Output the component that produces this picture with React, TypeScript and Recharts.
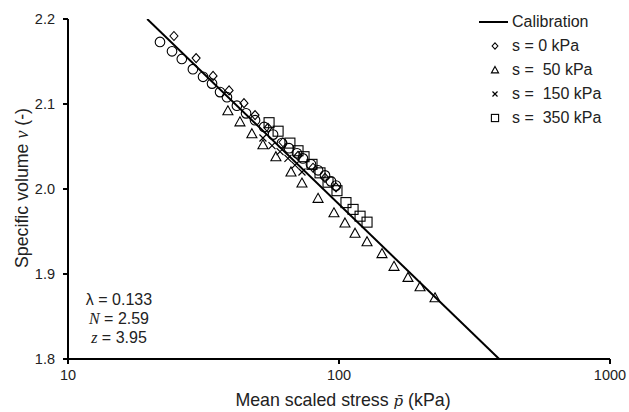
import React from "react";
import { ScatterChart, Scatter, XAxis, YAxis } from "recharts";

const xTicks = [10, 100, 1000];
const yTicks = [1.8, 1.9, 2.0, 2.1, 2.2];

// calibration line end points [p, v]
const calibration = [
  [19.6, 2.2],
  [390, 1.8],
];

// s = 0 kPa (diamonds)
const s0 = [
  [24.6, 2.18], [29.7, 2.154], [34.3, 2.133], [39.3, 2.116], [44.6, 2.101],
  [49.0, 2.087], [54.7, 2.072], [62.1, 2.055], [70.6, 2.039], [80.2, 2.025],
  [88.8, 2.013], [97.5, 2.002],
];

// s = 50 kPa (triangles)
const s50 = [
  [38.9, 2.092], [43.1, 2.079], [47.7, 2.065], [52.4, 2.052], [58.5, 2.038],
  [66.5, 2.02], [73.0, 2.007], [83.7, 1.989], [95.8, 1.972], [105.2, 1.96],
  [114.6, 1.948], [126.9, 1.938], [144.1, 1.924], [159.6, 1.909], [179.7, 1.896],
  [199.1, 1.885], [226.1, 1.872],
];

// s = 150 kPa (crosses)
const s150 = [
  [52.4, 2.06], [56.6, 2.051], [60.6, 2.044], [64.8, 2.036], [68.8, 2.028], [73.0, 2.02],
];

// s = 350 kPa (squares)
const s350 = [
  [55.2, 2.078], [59.6, 2.068], [65.9, 2.054], [70.6, 2.045], [74.3, 2.038],
  [79.5, 2.029], [85.1, 2.019], [91.1, 2.008], [98.3, 1.998], [106.1, 1.984],
  [112.7, 1.976], [119.6, 1.968], [126.9, 1.961],
];

// extra test data (circles, not in legend)
const extra = [
  [21.85, 2.173], [24.2, 2.162], [26.3, 2.153], [28.9, 2.141], [31.5, 2.132],
  [34.0, 2.124], [36.4, 2.114], [38.6, 2.108], [42.0, 2.098], [45.4, 2.089],
  [49.0, 2.081], [52.9, 2.073], [57.1, 2.064], [61.6, 2.054], [65.4, 2.048],
  [70.0, 2.042], [73.6, 2.036], [78.8, 2.029], [83.7, 2.022], [88.8, 2.016],
  [93.4, 2.009], [97.5, 2.004],
];

const toPts = (arr: number[][]) => arr.map(([p, v]) => ({ p, v }));

const Diamond = ({ cx, cy, k = 1 }: any) => (
  <path
    d={`M${cx},${cy - 4.5 * k}L${cx + 4 * k},${cy}L${cx},${cy + 4.5 * k}L${cx - 4 * k},${cy}Z`}
    fill="none"
    stroke="#000"
    strokeWidth={1.1}
  />
);
const Triangle = ({ cx, cy, k = 1 }: any) => (
  <path
    d={`M${cx},${cy - 5 * k}L${cx + 5 * k},${cy + 4 * k}L${cx - 5 * k},${cy + 4 * k}Z`}
    fill="none"
    stroke="#000"
    strokeWidth={1.1}
  />
);
const Cross = ({ cx, cy, k = 1 }: any) => (
  <path
    d={`M${cx - 3.5 * k},${cy - 3.5 * k}L${cx + 3.5 * k},${cy + 3.5 * k}M${cx + 3.5 * k},${cy - 3.5 * k}L${cx - 3.5 * k},${cy + 3.5 * k}`}
    stroke="#000"
    strokeWidth={1.2}
  />
);
const Square = ({ cx, cy, k = 1 }: any) => (
  <rect
    x={cx - 5 * k}
    y={cy - 5 * k}
    width={10 * k}
    height={10 * k}
    fill="none"
    stroke="#000"
    strokeWidth={1.1}
  />
);
const Circle = ({ cx, cy }: any) => (
  <circle cx={cx} cy={cy} r={4.8} fill="none" stroke="#000" strokeWidth={1.1} />
);
const NoDot = () => <g />;

const legendItems = [
  { name: "Calibration", mark: "line" },
  { name: "s = 0 kPa", mark: "diamond" },
  { name: "s =  50 kPa", mark: "triangle" },
  { name: "s =  150 kPa", mark: "cross" },
  { name: "s =  350 kPa", mark: "square" },
];

const LegendMark = ({ mark }: { mark: string }) => {
  const cx = 16;
  const cy = 12;
  const k = 0.72;
  return (
    <svg width={33} height={24} style={{ display: "block" }}>
      {mark === "line" && <line x1={0} x2={29} y1={cy} y2={cy} stroke="#000" strokeWidth={2} />}
      {mark === "diamond" && <Diamond cx={cx} cy={cy} k={k} />}
      {mark === "triangle" && <Triangle cx={cx} cy={cy} k={k} />}
      {mark === "cross" && <Cross cx={cx} cy={cy} k={k} />}
      {mark === "square" && <Square cx={cx} cy={cy} k={k} />}
    </svg>
  );
};

const XTitle = (props: any) => {
  const vb = props.viewBox || { x: 68, y: 359, width: 542 };
  return (
    <text x={vb.x + vb.width / 2 + 4} y={vb.y + 47} textAnchor="middle" fontSize={17.8} fill="#222">
      Mean scaled stress{" "}
      <tspan fontFamily="'DejaVu Serif'" fontStyle="italic" fontSize={15}>p̄</tspan> (kPa)
    </text>
  );
};

const YTitle = () => (
  <text
    x={22}
    y={188}
    transform="rotate(-90 22 188)"
    textAnchor="middle"
    dominantBaseline="central"
    fontSize={17.8}
    fill="#222"
  >
    Specific volume <tspan fontFamily="'Liberation Serif'" fontStyle="italic">v</tspan> (-)
  </text>
);

const axisStyle = { stroke: "#000", strokeWidth: 2 };

export default function App() {
  return (
    <div
      style={{
        position: "absolute",
        left: 0,
        top: 0,
        width: 629,
        height: 412,
        background: "#fff",
        fontFamily: "'Liberation Sans', Arial, sans-serif",
      }}
    >
      <ScatterChart width={629} height={412} margin={{ top: 19, right: 19, bottom: 0, left: 0 }}>
        <XAxis
          type="number"
          dataKey="p"
          scale="log"
          domain={[10, 1000]}
          ticks={xTicks}
          allowDataOverflow
          height={53}
          axisLine={axisStyle}
          tickLine={axisStyle}
          tickSize={5}
          tickMargin={6}
          tick={{ fill: "#222", fontSize: 14.5 }}
          label={XTitle}
        />
        <YAxis
          type="number"
          dataKey="v"
          domain={[1.8, 2.2]}
          ticks={yTicks}
          allowDataOverflow
          width={68}
          axisLine={axisStyle}
          tickLine={axisStyle}
          tickSize={5}
          tickMargin={8}
          tick={{ fill: "#222", fontSize: 14.5 }}
          tickFormatter={(v: number) => v.toFixed(1)}
          label={YTitle}
        />
        <Scatter
          name="Calibration"
          data={toPts(calibration)}
          line={{ stroke: "#000", strokeWidth: 2 }}
          shape={NoDot}
          isAnimationActive={false}
        />
        <Scatter name="extra" data={toPts(extra)} shape={Circle} isAnimationActive={false} />
        <Scatter name="s = 0 kPa" data={toPts(s0)} shape={Diamond} isAnimationActive={false} />
        <Scatter name="s = 50 kPa" data={toPts(s50)} shape={Triangle} isAnimationActive={false} />
        <Scatter name="s = 150 kPa" data={toPts(s150)} shape={Cross} isAnimationActive={false} />
        <Scatter name="s = 350 kPa" data={toPts(s350)} shape={Square} isAnimationActive={false} />
      </ScatterChart>

      <div style={{ position: "absolute", left: 479, top: 10, fontSize: 16, color: "#222" }}>
        {legendItems.map((it) => (
          <div key={it.name} style={{ display: "flex", alignItems: "center", height: 24 }}>
            <LegendMark mark={it.mark} />
            <span style={{ whiteSpace: "pre" }}>{it.name}</span>
          </div>
        ))}
      </div>

      <div
        style={{
          position: "absolute",
          left: 68,
          width: 102,
          top: 290,
          textAlign: "center",
          fontSize: 16,
          lineHeight: "19px",
          color: "#222",
        }}
      >
        <div>λ = 0.133</div>
        <div>
          <i style={{ fontFamily: "'Liberation Serif', serif" }}>N</i> = 2.59
        </div>
        <div>
          <i style={{ fontFamily: "'Liberation Serif', serif" }}>z</i> = 3.95
        </div>
      </div>
    </div>
  );
}
